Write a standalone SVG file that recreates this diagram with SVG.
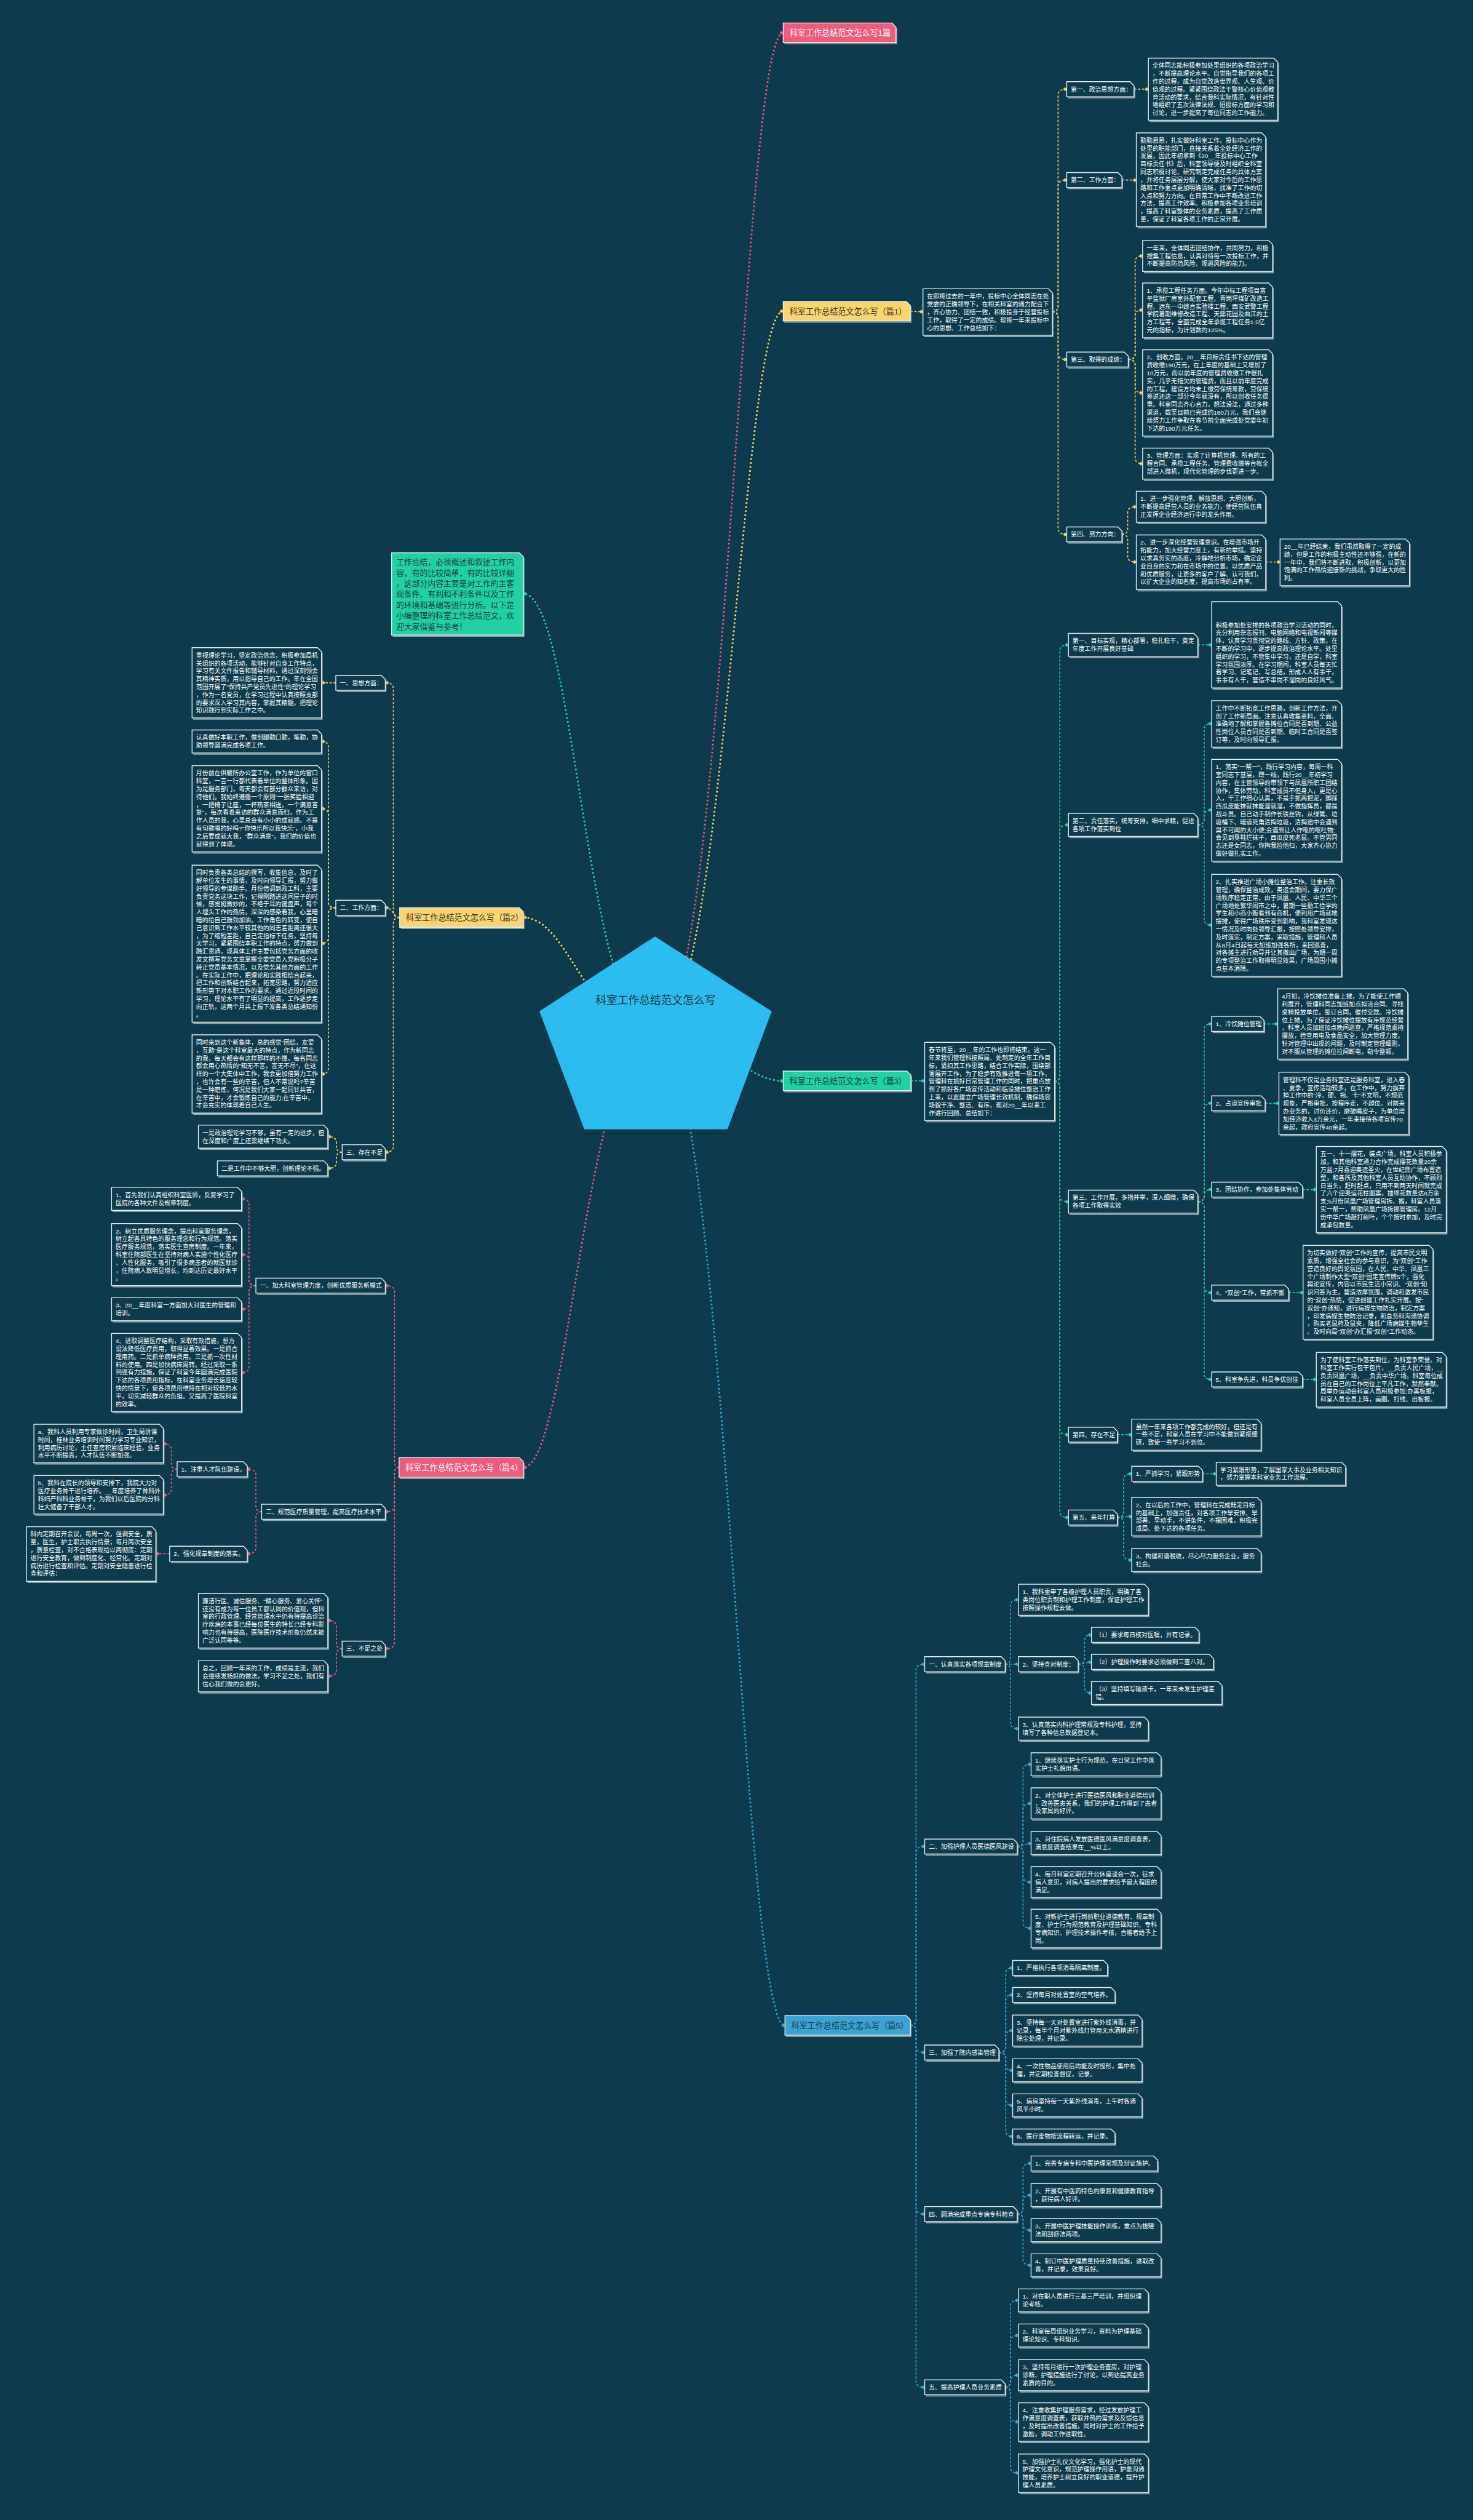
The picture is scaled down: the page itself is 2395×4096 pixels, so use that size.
<svg xmlns="http://www.w3.org/2000/svg" width="2395" height="4096" viewBox="0 0 2395 4096">
<defs>
<style>
.bx{fill:#0d3a4c;stroke:#e4edf0;stroke-width:1.5}
.sh{fill:none;stroke:#8fa5ad;stroke-width:2}
.t{font-family:"Liberation Sans","Noto Sans CJK SC",sans-serif;font-size:10.6px;fill:#ffffff}
.lb{font-family:"Liberation Sans","Noto Sans CJK SC",sans-serif;font-size:14px}
.c{fill:none;stroke-width:1.8;stroke-dasharray:4 3}
.cy{stroke:#f0cf6a;marker-end:url(#my)}
.cg{stroke:#1fd3a2;marker-end:url(#mg)}
.cp{stroke:#e85a7e;marker-end:url(#mp)}
.cb{stroke:#3ba3d0;marker-end:url(#mb)}
.ct{stroke:#1fd3a2;marker-end:url(#mg)}
.cr{fill:none;stroke-width:3;stroke-dasharray:3 4}
</style>
<marker id="my" viewBox="-5 -5 10 10" markerWidth="10" markerHeight="10" refX="3" refY="0" orient="auto" markerUnits="userSpaceOnUse"><path d="M0,-3.5 L3.5,0 L0,3.5 L-3.5,0 Z" fill="#f0cf6a"/></marker>
<marker id="mg" viewBox="-5 -5 10 10" markerWidth="10" markerHeight="10" refX="3" refY="0" orient="auto" markerUnits="userSpaceOnUse"><path d="M0,-3.5 L3.5,0 L0,3.5 L-3.5,0 Z" fill="#1fd3a2"/></marker>
<marker id="mp" viewBox="-5 -5 10 10" markerWidth="10" markerHeight="10" refX="3" refY="0" orient="auto" markerUnits="userSpaceOnUse"><path d="M0,-3.5 L3.5,0 L0,3.5 L-3.5,0 Z" fill="#e85a7e"/></marker>
<marker id="mb" viewBox="-5 -5 10 10" markerWidth="10" markerHeight="10" refX="3" refY="0" orient="auto" markerUnits="userSpaceOnUse"><path d="M0,-3.5 L3.5,0 L0,3.5 L-3.5,0 Z" fill="#3ba3d0"/></marker>
</defs>
<rect x="0" y="0" width="2395" height="4096" fill="#0d3a4c"/>
<g transform="scale(0.935)">

<g id="connectors">
<path class="cr cp" d="M1140,1795 C1260,1795 1290,57 1362,57"/>
<path class="cr cy" d="M1140,1795 C1260,1795 1290,541 1362,541"/>
<path class="cr cg" d="M1140,1795 C1260,1795 1290,1879 1362,1879"/>
<path class="cr cb" d="M1140,1795 C1260,1795 1290,3521 1365,3521"/>
<path class="cr ct" d="M1140,1795 C1020,1795 1000,1032 910,1032"/>
<path class="cr cy" d="M1140,1795 C1020,1795 990,1595 910,1595"/>
<path class="cr cp" d="M1140,1795 C1020,1795 990,2551 910,2551"/>
<path class="c cy" d="M1583,541 L1605,542"/>
<path class="c cy" d="M1830,542 Q1840,542 1840,532 V165 Q1840,155 1855,155"/>
<path class="c cy" d="M1830,542 Q1840,542 1840,532 V323 Q1840,313 1855,313"/>
<path class="c cy" d="M1830,542 Q1840,542 1840,552 V615 Q1840,625 1855,625"/>
<path class="c cy" d="M1830,542 Q1840,542 1840,552 V919 Q1840,929 1855,929"/>
<path class="c cy" d="M1972,155 H1997"/>
<path class="c cy" d="M1951,313 H1976"/>
<path class="c cy" d="M1962,625 Q1974,625 1974,615 V455 Q1974,445 1987,445"/>
<path class="c cy" d="M1962,625 Q1974,625 1974,615 V549 Q1974,539 1987,539"/>
<path class="c cy" d="M1962,625 Q1974,625 1974,635 V673 Q1974,683 1987,683"/>
<path class="c cy" d="M1962,625 Q1974,625 1974,635 V796 Q1974,806 1987,806"/>
<path class="c cy" d="M1951,929 Q1961,929 1961,919 V891 Q1961,881 1976,881"/>
<path class="c cy" d="M1951,929 Q1961,929 1961,939 V967 Q1961,977 1976,977"/>
<path class="c cy" d="M2201,977 H2226"/>
<path class="c cg" d="M1584,1879 H1608"/>
<path class="c cg" d="M1834,1880 Q1843,1880 1843,1870 V1131 Q1843,1121 1858,1121"/>
<path class="c cg" d="M1834,1880 Q1843,1880 1843,1870 V1444 Q1843,1434 1858,1434"/>
<path class="c cg" d="M1834,1880 Q1843,1880 1843,1890 V2079 Q1843,2089 1858,2089"/>
<path class="c cg" d="M1834,1880 Q1843,1880 1843,1890 V2484 Q1843,2494 1858,2494"/>
<path class="c cg" d="M1834,1880 Q1843,1880 1843,1890 V2628 Q1843,2638 1858,2638"/>
<path class="c cg" d="M2083,1121 H2107"/>
<path class="c cg" d="M2083,1434 Q2094,1434 2094,1424 V1268 Q2094,1258 2107,1258"/>
<path class="c cg" d="M2083,1434 Q2094,1434 2094,1424 V1418 Q2094,1408 2107,1408"/>
<path class="c cg" d="M2083,1434 Q2094,1434 2094,1444 V1598 Q2094,1608 2107,1608"/>
<path class="c cg" d="M2083,2089 Q2094,2089 2094,2079 V1790 Q2094,1780 2107,1780"/>
<path class="c cg" d="M2083,2089 Q2094,2089 2094,2079 V1928 Q2094,1918 2107,1918"/>
<path class="c cg" d="M2083,2089 Q2094,2089 2094,2079 V2078 Q2094,2068 2107,2068"/>
<path class="c cg" d="M2083,2089 Q2094,2089 2094,2099 V2237 Q2094,2247 2107,2247"/>
<path class="c cg" d="M2083,2089 Q2094,2089 2094,2099 V2388 Q2094,2398 2107,2398"/>
<path class="c cg" d="M2198,1780 H2222"/>
<path class="c cg" d="M2200,1918 H2224"/>
<path class="c cg" d="M2265,2068 H2289"/>
<path class="c cg" d="M2241,2247 H2266"/>
<path class="c cg" d="M2265,2398 H2289"/>
<path class="c cg" d="M1943,2494 H1968"/>
<path class="c cg" d="M1943,2638 Q1954,2638 1954,2628 V2572 Q1954,2562 1968,2562"/>
<path class="c cg" d="M1943,2638 L1968,2636"/>
<path class="c cg" d="M1943,2638 Q1954,2638 1954,2648 V2702 Q1954,2712 1968,2712"/>
<path class="c cg" d="M2091,2562 H2115"/>
<path class="c cb" d="M1583,3521 Q1593,3521 1593,3511 V2903 Q1593,2893 1608,2893"/>
<path class="c cb" d="M1583,3521 Q1593,3521 1593,3511 V3220 Q1593,3210 1608,3210"/>
<path class="c cb" d="M1583,3521 Q1593,3521 1593,3531 V3558 Q1593,3568 1608,3568"/>
<path class="c cb" d="M1583,3521 Q1593,3521 1593,3531 V3839 Q1593,3849 1608,3849"/>
<path class="c cb" d="M1583,3521 Q1593,3521 1593,3531 V4140 Q1593,4150 1608,4150"/>
<path class="c cb" d="M1748,2893 Q1757,2893 1757,2883 V2791 Q1757,2781 1771,2781"/>
<path class="c cb" d="M1748,2893 H1771"/>
<path class="c cb" d="M1748,2893 Q1757,2893 1757,2903 V2995 Q1757,3005 1771,3005"/>
<path class="c cb" d="M1875,2893 Q1886,2893 1886,2883 V2852 Q1886,2842 1898,2842"/>
<path class="c cb" d="M1875,2893 L1898,2889"/>
<path class="c cb" d="M1875,2893 Q1886,2893 1886,2903 V2933 Q1886,2943 1898,2943"/>
<path class="c cb" d="M1769,3210 Q1779,3210 1779,3200 V3077 Q1779,3067 1793,3067"/>
<path class="c cb" d="M1769,3210 Q1779,3210 1779,3200 V3145 Q1779,3135 1793,3135"/>
<path class="c cb" d="M1769,3210 L1793,3204"/>
<path class="c cb" d="M1769,3210 Q1779,3210 1779,3220 V3262 Q1779,3272 1793,3272"/>
<path class="c cb" d="M1769,3210 Q1779,3210 1779,3220 V3342 Q1779,3352 1793,3352"/>
<path class="c cb" d="M1737,3568 Q1749,3568 1749,3558 V3431 Q1749,3421 1761,3421"/>
<path class="c cb" d="M1737,3568 Q1749,3568 1749,3558 V3478 Q1749,3468 1761,3468"/>
<path class="c cb" d="M1737,3568 Q1749,3568 1749,3558 V3540 Q1749,3530 1761,3530"/>
<path class="c cb" d="M1737,3568 Q1749,3568 1749,3578 V3589 Q1749,3599 1761,3599"/>
<path class="c cb" d="M1737,3568 Q1749,3568 1749,3578 V3650 Q1749,3660 1761,3660"/>
<path class="c cb" d="M1737,3568 Q1749,3568 1749,3578 V3704 Q1749,3714 1761,3714"/>
<path class="c cb" d="M1769,3849 Q1779,3849 1779,3839 V3771 Q1779,3761 1793,3761"/>
<path class="c cb" d="M1769,3849 Q1779,3849 1779,3839 V3826 Q1779,3816 1793,3816"/>
<path class="c cb" d="M1769,3849 Q1779,3849 1779,3859 V3867 Q1779,3877 1793,3877"/>
<path class="c cb" d="M1769,3849 Q1779,3849 1779,3859 V3928 Q1779,3938 1793,3938"/>
<path class="c cb" d="M1748,4150 Q1757,4150 1757,4140 V4009 Q1757,3999 1771,3999"/>
<path class="c cb" d="M1748,4150 Q1757,4150 1757,4140 V4070 Q1757,4060 1771,4060"/>
<path class="c cb" d="M1748,4150 Q1757,4150 1757,4140 V4139 Q1757,4129 1771,4129"/>
<path class="c cb" d="M1748,4150 Q1757,4150 1757,4160 V4200 Q1757,4210 1771,4210"/>
<path class="c cb" d="M1748,4150 Q1757,4150 1757,4160 V4289 Q1757,4299 1771,4299"/>
<path class="c cy" d="M695,1595 Q684,1595 684,1585 V1197 Q684,1187 670,1187"/>
<path class="c cy" d="M695,1595 C684,1595 684,1578 670,1578"/>
<path class="c cy" d="M695,1595 Q684,1595 684,1605 V1993 Q684,2003 670,2003"/>
<path class="c cy" d="M584,1187 H559"/>
<path class="c cy" d="M584,1578 Q571,1578 571,1568 V1299 Q571,1289 559,1289"/>
<path class="c cy" d="M584,1578 Q571,1578 571,1568 V1416 Q571,1406 559,1406"/>
<path class="c cy" d="M584,1578 Q571,1578 571,1588 V1630 Q571,1640 559,1640"/>
<path class="c cy" d="M584,1578 Q571,1578 571,1588 V1857 Q571,1867 559,1867"/>
<path class="c cy" d="M595,2003 Q585,2003 585,1993 V1986 Q585,1976 570,1976"/>
<path class="c cy" d="M595,2003 Q585,2003 585,2013 V2021 Q585,2031 570,2031"/>
<path class="c cp" d="M694,2551 Q686,2551 686,2541 V2245 Q686,2235 670,2235"/>
<path class="c cp" d="M694,2551 Q686,2551 686,2561 V2618 Q686,2628 670,2628"/>
<path class="c cp" d="M694,2551 Q686,2551 686,2561 V2856 Q686,2866 670,2866"/>
<path class="c cp" d="M445,2235 Q433,2235 433,2225 V2094 Q433,2084 420,2084"/>
<path class="c cp" d="M445,2235 Q433,2235 433,2225 V2191 Q433,2181 420,2181"/>
<path class="c cp" d="M445,2235 Q433,2235 433,2245 V2266 Q433,2276 420,2276"/>
<path class="c cp" d="M445,2235 Q433,2235 433,2245 V2376 Q433,2386 420,2386"/>
<path class="c cp" d="M455,2628 Q445,2628 445,2618 V2564 Q445,2554 430,2554"/>
<path class="c cp" d="M455,2628 Q445,2628 445,2638 V2691 Q445,2701 430,2701"/>
<path class="c cp" d="M308,2554 Q298,2554 298,2544 V2520 Q298,2510 284,2510"/>
<path class="c cp" d="M308,2554 Q298,2554 298,2564 V2589 Q298,2599 284,2599"/>
<path class="c cp" d="M295,2701 H271"/>
<path class="c cp" d="M595,2866 Q585,2866 585,2856 V2827 Q585,2817 570,2817"/>
<path class="c cp" d="M595,2866 Q585,2866 585,2876 V2904 Q585,2914 570,2914"/>
</g>

<g id="root"><polygon points="1139,1628 1342,1758 1265,1963 1016,1963 938,1758" fill="#2cbdf0"/><text class="lb" x="1140" y="1745" text-anchor="middle" style="font-size:19px" fill="#183544">科室工作总结范文怎么写</text></g>

<g id="intro"><path class="sh" d="M683,1106 H911 V970"/><path d="M681,961 H903 L910,968 V1104 H681 Z" fill="#20d2a3" stroke="#e4edf0" stroke-width="1.5"/><text class="lb" style="font-size:13.7px" fill="#1e3b44" y="982"><tspan x="689">工作总结，必须概述和叙述工作内</tspan><tspan x="689" dy="18.6">容，有的比较简单，有的比较详细</tspan><tspan x="689" dy="18.6">。这部分内容主要是对工作的主客</tspan><tspan x="689" dy="18.6">观条件、有利和不利条件以及工作</tspan><tspan x="689" dy="18.6">的环境和基础等进行分析。以下是</tspan><tspan x="689" dy="18.6">小编整理的科室工作总结范文，欢</tspan><tspan x="689" dy="18.6">迎大家借鉴与参考！</tspan></text></g>

<g id="L0"><path class="sh" d="M1364,76 H1559 V49"/><path d="M1362,40 H1551 L1558,47 V74 H1362 Z" fill="#ef5a7d" stroke="#e4edf0" stroke-width="1.5"/><text class="lb" x="1373" y="62" fill="#ffffff">科室工作总结范文怎么写1篇</text></g>
<g id="L1"><path class="sh" d="M1364,560 H1584 V533"/><path d="M1362,524 H1576 L1583,531 V558 H1362 Z" fill="#fbd46d" stroke="#e4edf0" stroke-width="1.5"/><text class="lb" x="1373" y="546" fill="#333333">科室工作总结范文怎么写（篇1）</text></g>
<g id="L3"><path class="sh" d="M1364,1898 H1585 V1871"/><path d="M1362,1862 H1577 L1584,1869 V1896 H1362 Z" fill="#20d2a3" stroke="#e4edf0" stroke-width="1.5"/><text class="lb" x="1373" y="1884" fill="#1e3b44">科室工作总结范文怎么写（篇3）</text></g>
<g id="L5"><path class="sh" d="M1367,3540 H1584 V3513"/><path d="M1365,3504 H1576 L1583,3511 V3538 H1365 Z" fill="#3aa3d4" stroke="#e4edf0" stroke-width="1.5"/><text class="lb" x="1376" y="3526" fill="#1e3b44">科室工作总结范文怎么写（篇5）</text></g>
<g id="L2"><path class="sh" d="M697,1614 H911 V1587"/><path d="M695,1578 H903 L910,1585 V1612 H695 Z" fill="#fbd46d" stroke="#e4edf0" stroke-width="1.5"/><text class="lb" x="706" y="1600" fill="#333333">科室工作总结范文怎么写（篇2）</text></g>
<g id="L4"><path class="sh" d="M696,2570 H911 V2543"/><path d="M694,2534 H903 L910,2541 V2568 H694 Z" fill="#ef5a7d" stroke="#e4edf0" stroke-width="1.5"/><text class="lb" x="705" y="2556" fill="#ffffff">科室工作总结范文怎么写（篇4）</text></g>

<g id="p1"><path class="sh" d="M1607,585 H1831 V511"/><path class="bx" d="M1605,502 H1823 L1830,509 V583 H1605 Z"/><text class="t" y="519"><tspan x="1612">在即将过去的一年中，投标中心全体同志在处</tspan><tspan x="1612" dy="13.7">党委的正确领导下，在相关科室的通力配合下</tspan><tspan x="1612" dy="13.7">，齐心协力、团结一致，积极投身于经营投标</tspan><tspan x="1612" dy="13.7">工作，取得了一定的成绩。现将一年来投标中</tspan><tspan x="1612" dy="13.7">心的思想、工作总结如下：</tspan></text></g>
<g id="a1"><path class="sh" d="M1857,170 H1973 V151"/><path class="bx" d="M1855,142 H1965 L1972,149 V168 H1855 Z"/><text class="t" x="1862" y="159">第一、政治思想方面：</text></g>
<g id="a1b"><path class="sh" d="M1999,211 H2223 V110"/><path class="bx" d="M1997,101 H2215 L2222,108 V209 H1997 Z"/><text class="t" y="118"><tspan x="2004">全体同志能积极参加处里组织的各项政治学习</tspan><tspan x="2004" dy="13.7">，不断提高理论水平。自觉指导我们的各项工</tspan><tspan x="2004" dy="13.7">作的过程，成为自觉改造世界观、人生观、价</tspan><tspan x="2004" dy="13.7">值观的过程。紧紧围绕政法干警核心价值观教</tspan><tspan x="2004" dy="13.7">育活动的要求，结合我科实际情况，有针对性</tspan><tspan x="2004" dy="13.7">地组织了五次法律法规、招投标方面的学习和</tspan><tspan x="2004" dy="13.7">讨论，进一步提高了每位同志的工作能力。</tspan></text></g>
<g id="a2"><path class="sh" d="M1857,328 H1952 V309"/><path class="bx" d="M1855,300 H1944 L1951,307 V326 H1855 Z"/><text class="t" x="1862" y="317">第二、工作方面：</text></g>
<g id="a2b"><path class="sh" d="M1978,396 H2202 V240"/><path class="bx" d="M1976,231 H2194 L2201,238 V394 H1976 Z"/><text class="t" y="248"><tspan x="1983">勤勤恳恳，扎实做好科室工作。投标中心作为</tspan><tspan x="1983" dy="13.7">处里的职能部门，直接关系着全处经济工作的</tspan><tspan x="1983" dy="13.7">发展，因此年初拿到《20__年投标中心工作</tspan><tspan x="1983" dy="13.7">目标责任书》后，科室领导便及时组织全科室</tspan><tspan x="1983" dy="13.7">同志积极讨论、研究制定完成任务的具体方案</tspan><tspan x="1983" dy="13.7">，并将任务层层分解，使大家对今后的工作思</tspan><tspan x="1983" dy="13.7">路和工作重点更加明确清晰，找准了工作的切</tspan><tspan x="1983" dy="13.7">入点和努力方向。在日常工作中不断改进工作</tspan><tspan x="1983" dy="13.7">方法，提高工作效率。积极参加各项业务培训</tspan><tspan x="1983" dy="13.7">，提高了科室整体的业务素质，提高了工作质</tspan><tspan x="1983" dy="13.7">量，保证了科室各项工作的正常开展。</tspan></text></g>
<g id="a3"><path class="sh" d="M1857,640 H1963 V621"/><path class="bx" d="M1855,612 H1955 L1962,619 V638 H1855 Z"/><text class="t" x="1862" y="629">第三、取得的成绩：</text></g>
<g id="a3a"><path class="sh" d="M1989,474 H2214 V427"/><path class="bx" d="M1987,418 H2206 L2213,425 V472 H1987 Z"/><text class="t" y="435"><tspan x="1994">一年来，全体同志团结协作，共同努力，积极</tspan><tspan x="1994" dy="13.7">搜集工程信息，认真对待每一次投标工作，并</tspan><tspan x="1994" dy="13.7">不断提高防范风险、规避风险的能力。</tspan></text></g>
<g id="a3b"><path class="sh" d="M1989,589 H2214 V501"/><path class="bx" d="M1987,492 H2206 L2213,499 V587 H1987 Z"/><text class="t" y="509"><tspan x="1994">1、承揽工程任务方面。今年中标工程项目富</tspan><tspan x="1994" dy="13.7">平监狱厂房室外配套工程、青岗坪煤矿改造工</tspan><tspan x="1994" dy="13.7">程、远东一中综合实验楼工程、西安武警工程</tspan><tspan x="1994" dy="13.7">学院暑期维修改造工程、天鼎花园及曲江的土</tspan><tspan x="1994" dy="13.7">方工程等，全面完成全年承揽工程任务1.5亿</tspan><tspan x="1994" dy="13.7">元的指标，为计划数的125%。</tspan></text></g>
<g id="a3c"><path class="sh" d="M1989,760 H2214 V617"/><path class="bx" d="M1987,608 H2206 L2213,615 V758 H1987 Z"/><text class="t" y="625"><tspan x="1994">2、创收方面。20__年目标责任书下达的管理</tspan><tspan x="1994" dy="13.7">费收缴190万元，在上年度的基础上又增加了</tspan><tspan x="1994" dy="13.7">10万元，而以前年度的管理费收缴工作很扎</tspan><tspan x="1994" dy="13.7">实，几乎无拖欠的管理费，而且以前年度完成</tspan><tspan x="1994" dy="13.7">的工程，建设方均未上缴劳保统筹款，劳保统</tspan><tspan x="1994" dy="13.7">筹返还这一部分今年就没有，所以创收任务很</tspan><tspan x="1994" dy="13.7">重。科室同志齐心合力，想法设法，通过多种</tspan><tspan x="1994" dy="13.7">渠道，截至目前已完成约160万元，我们会继</tspan><tspan x="1994" dy="13.7">续努力工作争取在春节前全面完成处党委年初</tspan><tspan x="1994" dy="13.7">下达的190万元任务。</tspan></text></g>
<g id="a3d"><path class="sh" d="M1989,835 H2214 V788"/><path class="bx" d="M1987,779 H2206 L2213,786 V833 H1987 Z"/><text class="t" y="796"><tspan x="1994">3、管理方面：实现了计算机管理。所有的工</tspan><tspan x="1994" dy="13.7">程合同、承揽工程任务、管理费收缴等台帐全</tspan><tspan x="1994" dy="13.7">部进入微机，现代化管理的步伐更进一步。</tspan></text></g>
<g id="a4"><path class="sh" d="M1857,944 H1952 V925"/><path class="bx" d="M1855,916 H1944 L1951,923 V942 H1855 Z"/><text class="t" x="1862" y="933">第四、努力方向：</text></g>
<g id="a4a"><path class="sh" d="M1978,910 H2202 V863"/><path class="bx" d="M1976,854 H2194 L2201,861 V908 H1976 Z"/><text class="t" y="871"><tspan x="1983">1、进一步强化管理、解放思想、大胆创新，</tspan><tspan x="1983" dy="13.7">不断提高经营人员的业务能力，使经营队伍真</tspan><tspan x="1983" dy="13.7">正发挥企业经济运行中的龙头作用。</tspan></text></g>
<g id="a4b"><path class="sh" d="M1978,1027 H2202 V939"/><path class="bx" d="M1976,930 H2194 L2201,937 V1025 H1976 Z"/><text class="t" y="947"><tspan x="1983">2、进一步深化经营管理意识。在增强市场开</tspan><tspan x="1983" dy="13.7">拓能力，加大经营力度上，有新的举措。坚持</tspan><tspan x="1983" dy="13.7">以求真务实的态度，冷静地分析市场，确定企</tspan><tspan x="1983" dy="13.7">业自身的实力和在市场中的位置。以优质产品</tspan><tspan x="1983" dy="13.7">和优质服务，让更多的客户了解、认可我们，</tspan><tspan x="1983" dy="13.7">以扩大企业的知名度，提高市场的占有率。</tspan></text></g>
<g id="a4c"><path class="sh" d="M2228,1020 H2452 V946"/><path class="bx" d="M2226,937 H2444 L2451,944 V1018 H2226 Z"/><text class="t" y="954"><tspan x="2233">20__年已经结束，我们虽然取得了一定的成</tspan><tspan x="2233" dy="13.7">绩，但是工作的积极主动性还不够强，在新的</tspan><tspan x="2233" dy="13.7">一年中，我们将不断进取，积极创新，以更加</tspan><tspan x="2233" dy="13.7">饱满的工作热情迎接新的挑战，争取更大的胜</tspan><tspan x="2233" dy="13.7">利。</tspan></text></g>

<g id="p3"><path class="sh" d="M1610,1950 H1835 V1821"/><path class="bx" d="M1608,1812 H1827 L1834,1819 V1948 H1608 Z"/><text class="t" y="1829"><tspan x="1615">春节将至，20__年的工作也即将结束。这一</tspan><tspan x="1615" dy="13.7">年来我们管理科按照局、处制定的全年工作目</tspan><tspan x="1615" dy="13.7">标，紧扣其工作思路，结合工作实际，围绕部</tspan><tspan x="1615" dy="13.7">署展开工作，为了稳步有效推进每一项工作，</tspan><tspan x="1615" dy="13.7">管理科在抓好日常管理工作的同时，把重点放</tspan><tspan x="1615" dy="13.7">到了抓好各广场宣传活动和临设摊位整治工作</tspan><tspan x="1615" dy="13.7">上来，以此建立广场管理长效机制，确保场容</tspan><tspan x="1615" dy="13.7">场貌干净、整洁、有序。现对20__年以来工</tspan><tspan x="1615" dy="13.7">作进行回顾、总结如下：</tspan></text></g>
<g id="b1"><path class="sh" d="M1860,1143 H2084 V1110"/><path class="bx" d="M1858,1101 H2076 L2083,1108 V1141 H1858 Z"/><text class="t" y="1118"><tspan x="1865">第一、目标实现，精心部署，稳扎稳干，奠定</tspan><tspan x="1865" dy="13.7">年度工作开展良好基础</tspan></text></g>
<g id="b1b"><path class="sh" d="M2109,1198 H2334 V1055"/><path class="bx" d="M2107,1046 H2326 L2333,1053 V1196 H2107 Z"/><text class="t" y="1090.4"><tspan x="2114">积极参加处安排的各项政治学习活动的同时，</tspan><tspan x="2114" dy="13.7">充分利用杂志报刊、电脑网络和电视新闻等媒</tspan><tspan x="2114" dy="13.7">体，认真学习贯彻党的路线、方针、政策，在</tspan><tspan x="2114" dy="13.7">不断的学习中，逐步提高政治理论水平。处里</tspan><tspan x="2114" dy="13.7">组织的学习，不管集中学习，还是自学，科室</tspan><tspan x="2114" dy="13.7">学习氛围浓厚。在学习期间，科室人员每天忙</tspan><tspan x="2114" dy="13.7">着学习、记笔记、写总结，形成人人有事干，</tspan><tspan x="2114" dy="13.7">事事有人干，营造不串岗不溜岗的良好风气。</tspan></text></g>
<g id="b2"><path class="sh" d="M1860,1456 H2084 V1423"/><path class="bx" d="M1858,1414 H2076 L2083,1421 V1454 H1858 Z"/><text class="t" y="1431"><tspan x="1865">第二、责任落实，统筹安排，细中求精，促进</tspan><tspan x="1865" dy="13.7">各项工作落实到位</tspan></text></g>
<g id="b2a"><path class="sh" d="M2109,1301 H2334 V1227"/><path class="bx" d="M2107,1218 H2326 L2333,1225 V1299 H2107 Z"/><text class="t" y="1235"><tspan x="2114">工作中不断拓宽工作思路，创新工作方法，开</tspan><tspan x="2114" dy="13.7">创了工作新局面。注意认真收集资料，全面、</tspan><tspan x="2114" dy="13.7">准确地了解和掌握各摊位合同是否到期、公益</tspan><tspan x="2114" dy="13.7">性岗位人员合同是否到期、临时工合同是否签</tspan><tspan x="2114" dy="13.7">订等，及时向领导汇报。</tspan></text></g>
<g id="b2b"><path class="sh" d="M2109,1499 H2334 V1329"/><path class="bx" d="M2107,1320 H2326 L2333,1327 V1497 H2107 Z"/><text class="t" y="1337"><tspan x="2114">1、落实"一帮一"，践行学习内容，每周一科</tspan><tspan x="2114" dy="13.7">室同志下基层，蹲一线，践行20__年初学习</tspan><tspan x="2114" dy="13.7">内容，在主管领导的带领下与凤凰所职工团结</tspan><tspan x="2114" dy="13.7">协作，集体劳动，科室成员不但身入，更是心</tspan><tspan x="2114" dy="13.7">入，干工作细心认真，不是手抓两把泥，脚踩</tspan><tspan x="2114" dy="13.7">西瓜皮能抹就抹能溜就溜，不做指挥员，都是</tspan><tspan x="2114" dy="13.7">战斗员。自己动手制作长铁丝钩，从绿篱、垃</tspan><tspan x="2114" dy="13.7">圾桶下、暗道死角清掏垃圾，清掏途中会遇到</tspan><tspan x="2114" dy="13.7">臭不可闻的大小便;会遇到让人作呕的呕吐物;</tspan><tspan x="2114" dy="13.7">会见到臭鞋烂袜子，西瓜皮死老鼠。不管男同</tspan><tspan x="2114" dy="13.7">志还是女同志，你掏我捡他扫，大家齐心协力</tspan><tspan x="2114" dy="13.7">做好做扎实工作。</tspan></text></g>
<g id="b2c"><path class="sh" d="M2109,1699 H2334 V1529"/><path class="bx" d="M2107,1520 H2326 L2333,1527 V1697 H2107 Z"/><text class="t" y="1537"><tspan x="2114">2、扎实推进广场小摊位整治工作。注重长效</tspan><tspan x="2114" dy="13.7">管理，确保整治成效，奥运会期间，要力保广</tspan><tspan x="2114" dy="13.7">场秩序稳定正常，由于凤凰、人民、中华三个</tspan><tspan x="2114" dy="13.7">广场地处繁华闹市之中，暑期一些勤工俭学的</tspan><tspan x="2114" dy="13.7">学生和小商小贩看到有商机，便利用广场就地</tspan><tspan x="2114" dy="13.7">摆摊，使得广场秩序受到影响，我科室发现这</tspan><tspan x="2114" dy="13.7">一情况及时向处领导汇报，按照处领导安排，</tspan><tspan x="2114" dy="13.7">及时落实，制定方案，采取措施，管理科人员</tspan><tspan x="2114" dy="13.7">从8月4日起每天加班加强各所，来回巡查，</tspan><tspan x="2114" dy="13.7">对各摊主进行劝导并让其撤出广场，为期一周</tspan><tspan x="2114" dy="13.7">的专项整治工作取得明显效果，广场周围小摊</tspan><tspan x="2114" dy="13.7">点基本消除。</tspan></text></g>
<g id="b3"><path class="sh" d="M1860,2111 H2084 V2078"/><path class="bx" d="M1858,2069 H2076 L2083,2076 V2109 H1858 Z"/><text class="t" y="2086"><tspan x="1865">第三、工作开展，多措并举，深入细微，确保</tspan><tspan x="1865" dy="13.7">各项工作取得实效</tspan></text></g>
<g id="b31"><path class="sh" d="M2109,1795 H2199 V1776"/><path class="bx" d="M2107,1767 H2191 L2198,1774 V1793 H2107 Z"/><text class="t" x="2114" y="1784">1、冷饮摊位管理</text></g>
<g id="b31b"><path class="sh" d="M2224,1843 H2449 V1728"/><path class="bx" d="M2222,1719 H2441 L2448,1726 V1841 H2222 Z"/><text class="t" y="1736"><tspan x="2229">4月初，冷饮摊位准备上摊，为了能使工作顺</tspan><tspan x="2229" dy="13.7">利展开，管理科同志加班加点拟洽合同、寻找</tspan><tspan x="2229" dy="13.7">桌椅投放单位，签订合同，催付交款。冷饮摊</tspan><tspan x="2229" dy="13.7">位上摊，为了保证冷饮摊位摆放有序规范经营</tspan><tspan x="2229" dy="13.7">，科室人员加班加点晚间巡查，严格规范桌椅</tspan><tspan x="2229" dy="13.7">摆放，检查用电及食品安全，加大管理力度。</tspan><tspan x="2229" dy="13.7">针对管理中出现的问题，及时制定管理细则，</tspan><tspan x="2229" dy="13.7">对不服从管理的摊位拉闸断电，勒令整顿。</tspan></text></g>
<g id="b32"><path class="sh" d="M2109,1933 H2201 V1914"/><path class="bx" d="M2107,1905 H2193 L2200,1912 V1931 H2107 Z"/><text class="t" x="2114" y="1922">2、占道宣传审批</text></g>
<g id="b32b"><path class="sh" d="M2226,1974 H2451 V1873"/><path class="bx" d="M2224,1864 H2443 L2450,1871 V1972 H2224 Z"/><text class="t" y="1881"><tspan x="2231">管理科不仅是业务科室还是服务科室，进入春</tspan><tspan x="2231" dy="13.7">、夏季，宣传活动较多，在工作中，努力摒弃</tspan><tspan x="2231" dy="13.7">掉工作中的"冷、硬、拖、卡"不文明，不规范</tspan><tspan x="2231" dy="13.7">现象，严格审批，按程序走，不越位。对前来</tspan><tspan x="2231" dy="13.7">办业务的，讨价还价，磨破嘴皮子，为单位增</tspan><tspan x="2231" dy="13.7">加经济收入3万余元，一年来接待各项宣传70</tspan><tspan x="2231" dy="13.7">余起，政府宣传40余起。</tspan></text></g>
<g id="b33"><path class="sh" d="M2109,2083 H2266 V2064"/><path class="bx" d="M2107,2055 H2258 L2265,2062 V2081 H2107 Z"/><text class="t" x="2114" y="2072">3、团结协作，参加处集体劳动</text></g>
<g id="b33b"><path class="sh" d="M2291,2145 H2516 V2002"/><path class="bx" d="M2289,1993 H2508 L2515,2000 V2143 H2289 Z"/><text class="t" y="2010"><tspan x="2296">五一、十一摆花，装点广场，科室人员积极参</tspan><tspan x="2296" dy="13.7">加，和其他科室通力合作完成摆花数量20余</tspan><tspan x="2296" dy="13.7">万盆;7月喜迎奥运圣火，在世纪鼎广场布置造</tspan><tspan x="2296" dy="13.7">型，和各所及其他科室人员互助协作，不顾烈</tspan><tspan x="2296" dy="13.7">日当头，赶时赶点，只用不到两天时间就完成</tspan><tspan x="2296" dy="13.7">了六个迎奥运花柱图案，插绵花数量达8万余</tspan><tspan x="2296" dy="13.7">支;5月份凤凰广场管理房拆、搬，科室人员落</tspan><tspan x="2296" dy="13.7">实一帮一，帮助凤凰广场拆挪管理房。12月</tspan><tspan x="2296" dy="13.7">份中华广场敲打树叶，个个按时参加，及时完</tspan><tspan x="2296" dy="13.7">成承包数量。</tspan></text></g>
<g id="b34"><path class="sh" d="M2109,2262 H2242 V2243"/><path class="bx" d="M2107,2234 H2234 L2241,2241 V2260 H2107 Z"/><text class="t" x="2114" y="2251">4、"双创"工作，常抓不懈</text></g>
<g id="b34b"><path class="sh" d="M2268,2330 H2493 V2174"/><path class="bx" d="M2266,2165 H2485 L2492,2172 V2328 H2266 Z"/><text class="t" y="2182"><tspan x="2273">为切实做好"双创"工作的宣传，提高市民文明</tspan><tspan x="2273" dy="13.7">素质，增强全社会的参与意识，为"双创"工作</tspan><tspan x="2273" dy="13.7">营造良好的舆论氛围，在人民、中华、凤凰三</tspan><tspan x="2273" dy="13.7">个广场制作大型"双创"固定宣传牌5个，强化</tspan><tspan x="2273" dy="13.7">舆论宣传，内容以市民生活小常识、"双创"知</tspan><tspan x="2273" dy="13.7">识问答为主，营造浓厚氛围，调动和激发市民</tspan><tspan x="2273" dy="13.7">的"双创"热情，促进创建工作扎实开展。按"</tspan><tspan x="2273" dy="13.7">双创"办通知，进行病媒生物防治，制定方案</tspan><tspan x="2273" dy="13.7">，印发病媒生物防治记录，和总务科沟通协调</tspan><tspan x="2273" dy="13.7">，购买老鼠药及鼠夹，降低广场病媒生物孳生</tspan><tspan x="2273" dy="13.7">。及时向局"双创"办汇报"双创"工作动态。</tspan></text></g>
<g id="b35"><path class="sh" d="M2109,2413 H2266 V2394"/><path class="bx" d="M2107,2385 H2258 L2265,2392 V2411 H2107 Z"/><text class="t" x="2114" y="2402">5、科室争先进，科员争优创佳</text></g>
<g id="b35b"><path class="sh" d="M2291,2448 H2516 V2360"/><path class="bx" d="M2289,2351 H2508 L2515,2358 V2446 H2289 Z"/><text class="t" y="2368"><tspan x="2296">为了使科室工作落实到位，为科室争荣誉。对</tspan><tspan x="2296" dy="13.7">科室工作实行包干包片，__负责人民广场，__</tspan><tspan x="2296" dy="13.7">负责凤凰广场，__负责中华广场。科室每位成</tspan><tspan x="2296" dy="13.7">员在自己的工作岗位上平凡工作，默然奉献。</tspan><tspan x="2296" dy="13.7">局举办运动会科室人员积极参加;办黑板报，</tspan><tspan x="2296" dy="13.7">科室人员全员上阵，画图、打线、出板报。</tspan></text></g>
<g id="b4"><path class="sh" d="M1860,2509 H1944 V2490"/><path class="bx" d="M1858,2481 H1936 L1943,2488 V2507 H1858 Z"/><text class="t" x="1865" y="2498">第四、存在不足</text></g>
<g id="b4b"><path class="sh" d="M1970,2523 H2194 V2476"/><path class="bx" d="M1968,2467 H2186 L2193,2474 V2521 H1968 Z"/><text class="t" y="2484"><tspan x="1975">虽然一年来各项工作都完成的较好，但还是有</tspan><tspan x="1975" dy="13.7">一些不足，科室人员在学习中不能做到紧抠细</tspan><tspan x="1975" dy="13.7">研，致使一些学习不到位。</tspan></text></g>
<g id="b5"><path class="sh" d="M1860,2653 H1944 V2634"/><path class="bx" d="M1858,2625 H1936 L1943,2632 V2651 H1858 Z"/><text class="t" x="1865" y="2642">第五、来年打算</text></g>
<g id="b51"><path class="sh" d="M1970,2577 H2092 V2558"/><path class="bx" d="M1968,2549 H2084 L2091,2556 V2575 H1968 Z"/><text class="t" x="1975" y="2566">1、严抓学习，紧跟形势</text></g>
<g id="b51b"><path class="sh" d="M2117,2584 H2341 V2551"/><path class="bx" d="M2115,2542 H2333 L2340,2549 V2582 H2115 Z"/><text class="t" y="2559"><tspan x="2122">学习紧跟形势，了解国家大事及业务相关知识</tspan><tspan x="2122" dy="13.7">，努力掌握本科室业务工作流程。</tspan></text></g>
<g id="b52"><path class="sh" d="M1970,2672 H2194 V2612"/><path class="bx" d="M1968,2603 H2186 L2193,2610 V2670 H1968 Z"/><text class="t" y="2620"><tspan x="1975">2、在以后的工作中，管理科在完成既定目标</tspan><tspan x="1975" dy="13.7">的基础上，加强责任，对各项工作早安排、早</tspan><tspan x="1975" dy="13.7">部署、早动手，不讲条件，不摆困难，积极完</tspan><tspan x="1975" dy="13.7">成局、处下达的各项任务。</tspan></text></g>
<g id="b53"><path class="sh" d="M1970,2734 H2194 V2701"/><path class="bx" d="M1968,2692 H2186 L2193,2699 V2732 H1968 Z"/><text class="t" y="2709"><tspan x="1975">3、构建和谐税收，尽心尽力服务企业，服务</tspan><tspan x="1975" dy="13.7">社会。</tspan></text></g>

<g id="c1"><path class="sh" d="M1610,2908 H1749 V2889"/><path class="bx" d="M1608,2880 H1741 L1748,2887 V2906 H1608 Z"/><text class="t" x="1615" y="2897">一、认真落实各项规章制度</text></g>
<g id="c11"><path class="sh" d="M1773,2810 H1998 V2763"/><path class="bx" d="M1771,2754 H1990 L1997,2761 V2808 H1771 Z"/><text class="t" y="2771"><tspan x="1778">1、我科重申了各级护理人员职责，明确了各</tspan><tspan x="1778" dy="13.7">类岗位职责制和护理工作制度，保证护理工作</tspan><tspan x="1778" dy="13.7">按照操作规程去做。</tspan></text></g>
<g id="c12"><path class="sh" d="M1773,2908 H1876 V2889"/><path class="bx" d="M1771,2880 H1868 L1875,2887 V2906 H1771 Z"/><text class="t" x="1778" y="2897">2、坚持查对制度：</text></g>
<g id="c121"><path class="sh" d="M1900,2857 H2086 V2838"/><path class="bx" d="M1898,2829 H2078 L2085,2836 V2855 H1898 Z"/><text class="t" x="1905" y="2846">（1）要求每日核对医嘱，并有记录。</text></g>
<g id="c122"><path class="sh" d="M1900,2904 H2111 V2885"/><path class="bx" d="M1898,2876 H2103 L2110,2883 V2902 H1898 Z"/><text class="t" x="1905" y="2893">（2）护理操作时要求必须做到三查八对。</text></g>
<g id="c123"><path class="sh" d="M1900,2965 H2126 V2932"/><path class="bx" d="M1898,2923 H2118 L2125,2930 V2963 H1898 Z"/><text class="t" y="2940"><tspan x="1905">（3）坚持填写输液卡，一年来未发生护理差</tspan><tspan x="1905" dy="13.7">错。</tspan></text></g>
<g id="c13"><path class="sh" d="M1773,3027 H1998 V2994"/><path class="bx" d="M1771,2985 H1990 L1997,2992 V3025 H1771 Z"/><text class="t" y="3002"><tspan x="1778">3、认真落实内科护理常规及专科护理，坚持</tspan><tspan x="1778" dy="13.7">填写了各种信息数据登记本。</tspan></text></g>
<g id="c2"><path class="sh" d="M1610,3225 H1770 V3206"/><path class="bx" d="M1608,3197 H1762 L1769,3204 V3223 H1608 Z"/><text class="t" x="1615" y="3214">二、加强护理人员医德医风建设</text></g>
<g id="c21"><path class="sh" d="M1795,3089 H2020 V3056"/><path class="bx" d="M1793,3047 H2012 L2019,3054 V3087 H1793 Z"/><text class="t" y="3064"><tspan x="1800">1、继续落实护士行为规范，在日常工作中落</tspan><tspan x="1800" dy="13.7">实护士礼貌用语。</tspan></text></g>
<g id="c22"><path class="sh" d="M1795,3164 H2020 V3117"/><path class="bx" d="M1793,3108 H2012 L2019,3115 V3162 H1793 Z"/><text class="t" y="3125"><tspan x="1800">2、对全体护士进行医德医风和职业道德培训</tspan><tspan x="1800" dy="13.7">，改善医患关系，我们的护理工作得到了患者</tspan><tspan x="1800" dy="13.7">及家属的好评。</tspan></text></g>
<g id="c23"><path class="sh" d="M1795,3226 H2020 V3193"/><path class="bx" d="M1793,3184 H2012 L2019,3191 V3224 H1793 Z"/><text class="t" y="3201"><tspan x="1800">3、对住院病人发放医德医风满意度调查表，</tspan><tspan x="1800" dy="13.7">满意度调查结果在__%以上。</tspan></text></g>
<g id="c24"><path class="sh" d="M1795,3301 H2020 V3254"/><path class="bx" d="M1793,3245 H2012 L2019,3252 V3299 H1793 Z"/><text class="t" y="3262"><tspan x="1800">4、每月科室定期召开公休座谈会一次，征求</tspan><tspan x="1800" dy="13.7">病人意见，对病人提出的要求给予最大程度的</tspan><tspan x="1800" dy="13.7">满足。</tspan></text></g>
<g id="c25"><path class="sh" d="M1795,3388 H2020 V3328"/><path class="bx" d="M1793,3319 H2012 L2019,3326 V3386 H1793 Z"/><text class="t" y="3336"><tspan x="1800">5、对新护士进行岗前职业道德教育、规章制</tspan><tspan x="1800" dy="13.7">度、护士行为规范教育及护理基础知识、专科</tspan><tspan x="1800" dy="13.7">专病知识、护理技术操作考核，合格者给予上</tspan><tspan x="1800" dy="13.7">岗。</tspan></text></g>
<g id="c3"><path class="sh" d="M1610,3583 H1738 V3564"/><path class="bx" d="M1608,3555 H1730 L1737,3562 V3581 H1608 Z"/><text class="t" x="1615" y="3572">三、加强了院内感染管理</text></g>
<g id="c31"><path class="sh" d="M1763,3436 H1927 V3417"/><path class="bx" d="M1761,3408 H1919 L1926,3415 V3434 H1761 Z"/><text class="t" x="1768" y="3425">1、严格执行各项消毒隔离制度。</text></g>
<g id="c32"><path class="sh" d="M1763,3483 H1940 V3464"/><path class="bx" d="M1761,3455 H1932 L1939,3462 V3481 H1761 Z"/><text class="t" x="1768" y="3472">2、坚持每月对处置室的空气培养。</text></g>
<g id="c33"><path class="sh" d="M1763,3559 H1987 V3512"/><path class="bx" d="M1761,3503 H1979 L1986,3510 V3557 H1761 Z"/><text class="t" y="3520"><tspan x="1768">3、坚持每一天对处置室进行紫外线消毒，并</tspan><tspan x="1768" dy="13.7">记录，每半个月对紫外线灯管用无水酒精进行</tspan><tspan x="1768" dy="13.7">除尘处理，并记录。</tspan></text></g>
<g id="c34"><path class="sh" d="M1763,3621 H1987 V3588"/><path class="bx" d="M1761,3579 H1979 L1986,3586 V3619 H1761 Z"/><text class="t" y="3596"><tspan x="1768">4、一次性物品使用后均能及时毁形，集中处</tspan><tspan x="1768" dy="13.7">理，并定期检查督促，记录。</tspan></text></g>
<g id="c35"><path class="sh" d="M1763,3682 H1987 V3649"/><path class="bx" d="M1761,3640 H1979 L1986,3647 V3680 H1761 Z"/><text class="t" y="3657"><tspan x="1768">5、病房坚持每一天紫外线消毒，上午时各通</tspan><tspan x="1768" dy="13.7">风半小时。</tspan></text></g>
<g id="c36"><path class="sh" d="M1763,3729 H1940 V3710"/><path class="bx" d="M1761,3701 H1932 L1939,3708 V3727 H1761 Z"/><text class="t" x="1768" y="3718">6、医疗废物按流程转运，并记录。</text></g>
<g id="c4"><path class="sh" d="M1610,3864 H1770 V3845"/><path class="bx" d="M1608,3836 H1762 L1769,3843 V3862 H1608 Z"/><text class="t" x="1615" y="3853">四、圆满完成重点专病专科检查</text></g>
<g id="c41"><path class="sh" d="M1795,3776 H2014 V3757"/><path class="bx" d="M1793,3748 H2006 L2013,3755 V3774 H1793 Z"/><text class="t" x="1800" y="3765">1、完善专病专科中医护理常规及辩证施护。</text></g>
<g id="c42"><path class="sh" d="M1795,3838 H2020 V3805"/><path class="bx" d="M1793,3796 H2012 L2019,3803 V3836 H1793 Z"/><text class="t" y="3813"><tspan x="1800">2、开展有中医药特色的康复和健康教育指导</tspan><tspan x="1800" dy="13.7">，获得病人好评。</tspan></text></g>
<g id="c43"><path class="sh" d="M1795,3899 H2020 V3866"/><path class="bx" d="M1793,3857 H2012 L2019,3864 V3897 H1793 Z"/><text class="t" y="3874"><tspan x="1800">3、开展中医护理技能操作训练，重点为拔罐</tspan><tspan x="1800" dy="13.7">法和刮痧法两项。</tspan></text></g>
<g id="c44"><path class="sh" d="M1795,3960 H2020 V3927"/><path class="bx" d="M1793,3918 H2012 L2019,3925 V3958 H1793 Z"/><text class="t" y="3935"><tspan x="1800">4、制订中医护理质量持续改善措施，进取改</tspan><tspan x="1800" dy="13.7">善，并记录，效果良好。</tspan></text></g>
<g id="c5"><path class="sh" d="M1610,4165 H1749 V4146"/><path class="bx" d="M1608,4137 H1741 L1748,4144 V4163 H1608 Z"/><text class="t" x="1615" y="4154">五、提高护理人员业务素质</text></g>
<g id="c51"><path class="sh" d="M1773,4021 H1998 V3988"/><path class="bx" d="M1771,3979 H1990 L1997,3986 V4019 H1771 Z"/><text class="t" y="3996"><tspan x="1778">1、对在职人员进行三基三严培训，并组织理</tspan><tspan x="1778" dy="13.7">论考核。</tspan></text></g>
<g id="c52"><path class="sh" d="M1773,4082 H1998 V4049"/><path class="bx" d="M1771,4040 H1990 L1997,4047 V4080 H1771 Z"/><text class="t" y="4057"><tspan x="1778">2、科室每周组织业务学习，资料为护理基础</tspan><tspan x="1778" dy="13.7">理论知识、专科知识。</tspan></text></g>
<g id="c53"><path class="sh" d="M1773,4158 H1998 V4111"/><path class="bx" d="M1771,4102 H1990 L1997,4109 V4156 H1771 Z"/><text class="t" y="4119"><tspan x="1778">3、坚持每月进行一次护理业务查房，对护理</tspan><tspan x="1778" dy="13.7">诊断、护理措施进行了讨论，以到达提高业务</tspan><tspan x="1778" dy="13.7">素质的目的。</tspan></text></g>
<g id="c54"><path class="sh" d="M1773,4246 H1998 V4186"/><path class="bx" d="M1771,4177 H1990 L1997,4184 V4244 H1771 Z"/><text class="t" y="4194"><tspan x="1778">4、注重收集护理服务需求，经过发放护理工</tspan><tspan x="1778" dy="13.7">作满意度调查表，获取并热的需求及反馈信息</tspan><tspan x="1778" dy="13.7">，及时提出改善措施，同时对护士的工作给予</tspan><tspan x="1778" dy="13.7">激励，调动工作进取性。</tspan></text></g>
<g id="c55"><path class="sh" d="M1773,4335 H1998 V4275"/><path class="bx" d="M1771,4266 H1990 L1997,4273 V4333 H1771 Z"/><text class="t" y="4283"><tspan x="1778">5、加强护士礼仪文化学习，强化护士的现代</tspan><tspan x="1778" dy="13.7">护理文化意识，规范护理操作用语，护患沟通</tspan><tspan x="1778" dy="13.7">技能，培养护士树立良好的职业道德，提升护</tspan><tspan x="1778" dy="13.7">理人员素质。</tspan></text></g>

<g id="d1"><path class="sh" d="M586,1202 H671 V1183"/><path class="bx" d="M584,1174 H663 L670,1181 V1200 H584 Z"/><text class="t" x="591" y="1191">一、思想方面：</text></g>
<g id="d1b"><path class="sh" d="M336,1250 H560 V1135"/><path class="bx" d="M334,1126 H552 L559,1133 V1248 H334 Z"/><text class="t" y="1143"><tspan x="341">重视理论学习，坚定政治信念，积极参加局机</tspan><tspan x="341" dy="13.7">关组织的各项活动，能够针对自身工作特点，</tspan><tspan x="341" dy="13.7">学习有关文件报告和辅导材料，通过深刻领会</tspan><tspan x="341" dy="13.7">其精神实质，用以指导自己的工作。年在全国</tspan><tspan x="341" dy="13.7">范围开展了"保持共产党员先进性"的理论学习</tspan><tspan x="341" dy="13.7">，作为一名党员，在学习过程中认真按照支部</tspan><tspan x="341" dy="13.7">的要求深入学习其内容，掌握其精髓，把理论</tspan><tspan x="341" dy="13.7">知识践行到实际工作之中。</tspan></text></g>
<g id="d2"><path class="sh" d="M586,1593 H671 V1574"/><path class="bx" d="M584,1565 H663 L670,1572 V1591 H584 Z"/><text class="t" x="591" y="1582">二、工作方面：</text></g>
<g id="d2a"><path class="sh" d="M336,1311 H560 V1278"/><path class="bx" d="M334,1269 H552 L559,1276 V1309 H334 Z"/><text class="t" y="1286"><tspan x="341">认真做好本职工作，做到腿勤口勤，笔勤，协</tspan><tspan x="341" dy="13.7">助领导圆满完成各项工作。</tspan></text></g>
<g id="d2b"><path class="sh" d="M336,1483 H560 V1340"/><path class="bx" d="M334,1331 H552 L559,1338 V1481 H334 Z"/><text class="t" y="1348"><tspan x="341">月份前在供暖所办公室工作，作为单位的窗口</tspan><tspan x="341" dy="13.7">科室，一言一行都代表着单位的整体形象。因</tspan><tspan x="341" dy="13.7">为是服务部门，每天都会有部分群众来访，对</tspan><tspan x="341" dy="13.7">待他们，我始终遵循一个原则"一张笑脸相迎</tspan><tspan x="341" dy="13.7">，一把椅子让座，一杯热茶相送，一个满意答</tspan><tspan x="341" dy="13.7">复"，每次看着来访的群众满意而归，作为工</tspan><tspan x="341" dy="13.7">作人员的我，心里总会有小小的成就感。不是</tspan><tspan x="341" dy="13.7">有句歌唱的好吗?"你快乐所以我快乐"，小我</tspan><tspan x="341" dy="13.7">之后要成就大我，"群众满意"，我们的价值也</tspan><tspan x="341" dy="13.7">就得到了体现。</tspan></text></g>
<g id="d2c"><path class="sh" d="M336,1779 H560 V1513"/><path class="bx" d="M334,1504 H552 L559,1511 V1777 H334 Z"/><text class="t" y="1521"><tspan x="341">同时负责各类总结的撰写，收集信息，及时了</tspan><tspan x="341" dy="13.7">解单位发生的事情，及时向领导汇报，努力做</tspan><tspan x="341" dy="13.7">好领导的参谋助手。月份借调到政工科，主要</tspan><tspan x="341" dy="13.7">负责党务这块工作，记得刚踏进这间屋子的时</tspan><tspan x="341" dy="13.7">候，感觉挺微妙的，不绝于耳的键盘声，每个</tspan><tspan x="341" dy="13.7">人埋头工作的热情，深深的感染着我，心里暗</tspan><tspan x="341" dy="13.7">暗的给自己鼓劲加油。工作角色的转变，使自</tspan><tspan x="341" dy="13.7">己意识到工作水平较其他的同志差距离还很大</tspan><tspan x="341" dy="13.7">，为了缩短差距，自己定指标下任务，坚持每</tspan><tspan x="341" dy="13.7">天学习，紧紧围绕本职工作的特点，努力做到</tspan><tspan x="341" dy="13.7">融汇贯通，现具体工作主要包括党务方面的收</tspan><tspan x="341" dy="13.7">发文撰写党务文章掌握全委党员入党积极分子</tspan><tspan x="341" dy="13.7">转正党员基本情况，以及党务其他方面的工作</tspan><tspan x="341" dy="13.7">。在实际工作中，把理论和实践相结合起来，</tspan><tspan x="341" dy="13.7">把工作和创新结合起来，拓宽思路，努力适应</tspan><tspan x="341" dy="13.7">新形势下对本职工作的要求，通过近段时间的</tspan><tspan x="341" dy="13.7">学习，理论水平有了明显的提高，工作逐步走</tspan><tspan x="341" dy="13.7">向正轨，这两个月共上报下发各类总结通知份</tspan><tspan x="341" dy="13.7">。</tspan></text></g>
<g id="d2d"><path class="sh" d="M336,1937 H560 V1808"/><path class="bx" d="M334,1799 H552 L559,1806 V1935 H334 Z"/><text class="t" y="1816"><tspan x="341">同时来到这个新集体，总的感觉"团结，友爱</tspan><tspan x="341" dy="13.7">，互助"是这个科室最大的特点，作为新同志</tspan><tspan x="341" dy="13.7">的我，每天都会有这样那样的不懂，每名同志</tspan><tspan x="341" dy="13.7">都会用心热情的"知无不言，言无不尽"，在这</tspan><tspan x="341" dy="13.7">样的一个大集体中工作，我会更加倍努力工作</tspan><tspan x="341" dy="13.7">，也许会有一些的辛苦，但人不常说吗?辛苦</tspan><tspan x="341" dy="13.7">是一种磨炼，何况是我们大家一起同甘共苦，</tspan><tspan x="341" dy="13.7">在辛苦中，才会锻炼自己的能力;在辛苦中，</tspan><tspan x="341" dy="13.7">才会充实的体现着自己人生。</tspan></text></g>
<g id="d3"><path class="sh" d="M597,2018 H671 V1999"/><path class="bx" d="M595,1990 H663 L670,1997 V2016 H595 Z"/><text class="t" x="602" y="2007">三、存在不足</text></g>
<g id="d3a"><path class="sh" d="M347,1998 H571 V1965"/><path class="bx" d="M345,1956 H563 L570,1963 V1996 H345 Z"/><text class="t" y="1973"><tspan x="352">一是政治理论学习不够，虽有一定的进步，但</tspan><tspan x="352" dy="13.7">在深度和广度上还需继续下功夫。</tspan></text></g>
<g id="d3b"><path class="sh" d="M380,2046 H571 V2027"/><path class="bx" d="M378,2018 H563 L570,2025 V2044 H378 Z"/><text class="t" x="385" y="2035">二是工作中不够大胆，创新理论不强。</text></g>

<g id="e1"><path class="sh" d="M447,2250 H671 V2231"/><path class="bx" d="M445,2222 H663 L670,2229 V2248 H445 Z"/><text class="t" x="452" y="2239">一、加大科室管理力度，创新优质服务新模式</text></g>
<g id="e11"><path class="sh" d="M196,2106 H421 V2073"/><path class="bx" d="M194,2064 H413 L420,2071 V2104 H194 Z"/><text class="t" y="2081"><tspan x="201">1、首先我们认真组织科室医师，反复学习了</tspan><tspan x="201" dy="13.7">医院的各种文件及规章制度。</tspan></text></g>
<g id="e12"><path class="sh" d="M196,2237 H421 V2136"/><path class="bx" d="M194,2127 H413 L420,2134 V2235 H194 Z"/><text class="t" y="2144"><tspan x="201">2、树立优质服务理念，提出科室服务理念，</tspan><tspan x="201" dy="13.7">树立起各具特色的服务理念和行为规范。落实</tspan><tspan x="201" dy="13.7">医疗服务规范，落实医生查房制度。一年来，</tspan><tspan x="201" dy="13.7">科室住院部医生在坚持对病人实施个性化医疗</tspan><tspan x="201" dy="13.7">、人性化服务，吸引了很多病患者的就医就诊</tspan><tspan x="201" dy="13.7">，住院病人数明显增长，均到达历史最好水平</tspan><tspan x="201" dy="13.7">。</tspan></text></g>
<g id="e13"><path class="sh" d="M196,2298 H421 V2265"/><path class="bx" d="M194,2256 H413 L420,2263 V2296 H194 Z"/><text class="t" y="2273"><tspan x="201">3、20__年度科室一方面加大对医生的管理和</tspan><tspan x="201" dy="13.7">培训。</tspan></text></g>
<g id="e14"><path class="sh" d="M196,2456 H421 V2327"/><path class="bx" d="M194,2318 H413 L420,2325 V2454 H194 Z"/><text class="t" y="2335"><tspan x="201">4、进取调整医疗结构，采取有效措施，想方</tspan><tspan x="201" dy="13.7">设法降低医疗费用，取得显著效果。一是抓合</tspan><tspan x="201" dy="13.7">理用药。二是抓单病种费用。三是抓一次性材</tspan><tspan x="201" dy="13.7">料的使用。四是加快病床周转。经过采取一系</tspan><tspan x="201" dy="13.7">列强有力措施，保证了科室今年圆满完成医院</tspan><tspan x="201" dy="13.7">下达的各项费用指标，在科室业务增长速度较</tspan><tspan x="201" dy="13.7">快的情景下，使各项费用维持在相对较低的水</tspan><tspan x="201" dy="13.7">平，切实减轻群众的负担。又提高了医院科室</tspan><tspan x="201" dy="13.7">的效率。</tspan></text></g>
<g id="e2"><path class="sh" d="M457,2643 H671 V2624"/><path class="bx" d="M455,2615 H663 L670,2622 V2641 H455 Z"/><text class="t" x="462" y="2632">二、规范医疗质量管理，提高医疗技术水平</text></g>
<g id="e21"><path class="sh" d="M310,2569 H431 V2550"/><path class="bx" d="M308,2541 H423 L430,2548 V2567 H308 Z"/><text class="t" x="315" y="2558">1、注重人才队伍建设。</text></g>
<g id="e21a"><path class="sh" d="M61,2545 H285 V2485"/><path class="bx" d="M59,2476 H277 L284,2483 V2543 H59 Z"/><text class="t" y="2493"><tspan x="66">a、我科人员利用专家做诊时间，卫生局讲课</tspan><tspan x="66" dy="13.7">时间，桂林业务培训时间努力学习专业知识，</tspan><tspan x="66" dy="13.7">利用病历讨论，主任查房积累临床经验，业务</tspan><tspan x="66" dy="13.7">水平不断提高，人才队伍不断加强。</tspan></text></g>
<g id="e21b"><path class="sh" d="M61,2634 H285 V2574"/><path class="bx" d="M59,2565 H277 L284,2572 V2632 H59 Z"/><text class="t" y="2582"><tspan x="66">b、我科在院长的领导和安排下，我院大力对</tspan><tspan x="66" dy="13.7">医疗业务骨干进行培养。__年度培养了骨科外</tspan><tspan x="66" dy="13.7">科妇产科科业务骨干，为我们以后医院的分科</tspan><tspan x="66" dy="13.7">壮大储备了干部人才。</tspan></text></g>
<g id="e22"><path class="sh" d="M297,2716 H431 V2697"/><path class="bx" d="M295,2688 H423 L430,2695 V2714 H295 Z"/><text class="t" x="302" y="2705">2、强化规章制度的落实。</text></g>
<g id="e22b"><path class="sh" d="M48,2751 H272 V2663"/><path class="bx" d="M46,2654 H264 L271,2661 V2749 H46 Z"/><text class="t" y="2671"><tspan x="53">科内定期召开会议，每周一次，强调安全，质</tspan><tspan x="53" dy="13.7">量，医生，护士职责执行情景；每月两次安全</tspan><tspan x="53" dy="13.7">，质量检查，对不合格表现给以两彻底：定期</tspan><tspan x="53" dy="13.7">进行安全教育，做到制度化、经常化。定期对</tspan><tspan x="53" dy="13.7">病历进行检查和评估。定期对安全隐患进行检</tspan><tspan x="53" dy="13.7">查和评估：</tspan></text></g>
<g id="e3"><path class="sh" d="M597,2881 H671 V2862"/><path class="bx" d="M595,2853 H663 L670,2860 V2879 H595 Z"/><text class="t" x="602" y="2870">三、不足之处</text></g>
<g id="e3a"><path class="sh" d="M347,2867 H571 V2779"/><path class="bx" d="M345,2770 H563 L570,2777 V2865 H345 Z"/><text class="t" y="2787"><tspan x="352">廉洁行医、诚信服务、"精心服务、爱心关怀"</tspan><tspan x="352" dy="13.7">还没有成为每一位员工都认同的价值观，但科</tspan><tspan x="352" dy="13.7">室的行政管理、经营管理水平仍有待提高诊治</tspan><tspan x="352" dy="13.7">疗疾病的本事已经每位医生的特长已经专科影</tspan><tspan x="352" dy="13.7">响力也有待提高，医院医疗技术形象仍然未被</tspan><tspan x="352" dy="13.7">广泛认同等等。</tspan></text></g>
<g id="e3b"><path class="sh" d="M347,2943 H571 V2896"/><path class="bx" d="M345,2887 H563 L570,2894 V2941 H345 Z"/><text class="t" y="2904"><tspan x="352">总之，回顾一年来的工作，成绩是主流，我们</tspan><tspan x="352" dy="13.7">会继续发扬好的做法，学习不足之处，我们有</tspan><tspan x="352" dy="13.7">信心我们做的会更好。</tspan></text></g>
</g>
</svg>
